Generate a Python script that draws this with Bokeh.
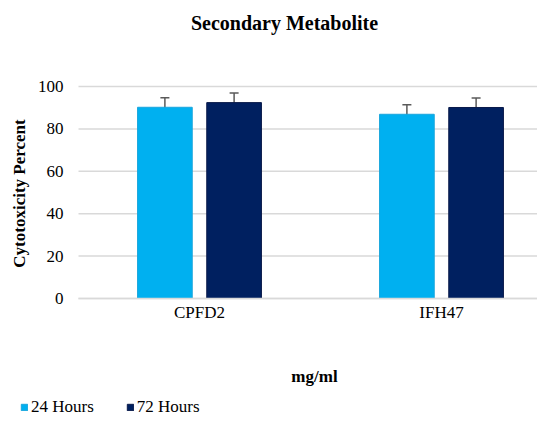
import math
from bokeh.plotting import figure
from bokeh.models import (Range1d, FixedTicker, ColumnDataSource, Whisker, Label,
                          Legend, LegendItem, TeeHead)
from bokeh.embed import file_html
from bokeh.resources import INLINE

categories = ["CPFD2", "IFH47"]
series = ["24 Hours", "72 Hours"]
hours24 = [90.2, 86.9]
hours72 = [92.4, 90.1]
err24 = [4.5, 4.5]
err72 = [4.5, 4.5]
y_ticks = [0, 20, 40, 60, 80, 100]

colors = ["#00B0F0", "#002060"]
line_colors = ["#1AA6DC", "#0A1A4A"]
FONT = "Liberation Serif"

W, H = 537, 417
PX0, PY0, PXU, PYU = 78, 298, 242.0, 2.12   # pixel of data origin, px per unit


def dx(px):
    return (px - PX0) / PXU


def dy(py):
    return (PY0 - py) / PYU


XMAX = dx(W)
p = figure(frame_width=W, frame_height=H, output_backend="svg", toolbar_location=None,
           x_range=Range1d(dx(0), XMAX), y_range=Range1d(dy(H), dy(0)),
           min_border_left=0, min_border_right=0, min_border_top=0,
           min_border_bottom=0, title=None)
p.outline_line_color = None
p.background_fill_color = "white"
p.border_fill_color = "white"
p.xgrid.visible = False
p.ygrid.visible = False

# horizontal grid lines at the y ticks, only across the plot area
p.segment(x0=[0] * len(y_ticks), x1=[XMAX] * len(y_ticks), y0=y_ticks, y1=y_ticks,
          line_color="#D9D9D9", line_width=1.5)

centers = [i + 0.5 for i in range(len(categories))]
offset = 0.143
bw = 0.226

renderers = []
for k, (vals, errs) in enumerate([(hours24, err24), (hours72, err72)]):
    xs = [c + (offset if k else -offset) for c in centers]
    src = ColumnDataSource(dict(x=xs, top=vals,
                                upper=[v + e for v, e in zip(vals, errs)],
                                lower=[v - e for v, e in zip(vals, errs)]))
    r = p.vbar(x="x", top="top", width=bw, source=src, fill_color=colors[k],
               line_color=line_colors[k], line_width=1)
    renderers.append(r)
    w = Whisker(base="x", upper="upper", lower="lower", source=src,
                line_color="#5A5A5A", line_width=1.5,
                upper_head=TeeHead(size=9, line_color="#5A5A5A", line_width=1.5),
                lower_head=TeeHead(size=9, line_color="#5A5A5A", line_width=1.5))
    p.add_layout(w)

# axes fixed at the data origin
p.xaxis.fixed_location = 0
p.xaxis.bounds = (0, XMAX)
p.xaxis.ticker = FixedTicker(ticks=centers)
p.xaxis.major_label_overrides = {c: n for c, n in zip(centers, categories)}
p.xaxis.major_tick_line_color = None
p.xaxis.minor_tick_line_color = None
p.xaxis.axis_line_color = "#D9D9D9"
p.xaxis.axis_line_width = 1.5
p.xaxis.major_label_standoff = -2
p.xaxis.major_label_text_font = FONT
p.xaxis.major_label_text_font_size = "17px"
p.xaxis.major_label_text_color = "#000000"

p.yaxis.fixed_location = 0
p.yaxis.bounds = (0, 100)
p.yaxis.ticker = FixedTicker(ticks=y_ticks)
p.yaxis.major_tick_line_color = None
p.yaxis.minor_tick_line_color = None
p.yaxis.axis_line_color = None
p.yaxis.major_label_standoff = 9
p.yaxis.major_label_text_font = FONT
p.yaxis.major_label_text_font_size = "17px"
p.yaxis.major_label_text_color = "#000000"


def lab(text, x, y, size, angle=0.0):
    return Label(x=x, y=y, text=text, text_font=FONT, text_font_size=size,
                 text_font_style="bold", text_align="center", text_baseline="middle",
                 angle=angle, text_color="#000000")


p.add_layout(lab("Secondary Metabolite", dx(284), dy(22), "20px"))
p.add_layout(lab("mg/ml", dx(314), dy(376), "17px"))
p.add_layout(lab("Cytotoxicity Percent", dx(18.5), dy(193), "17px", math.pi / 2))

legend = Legend(items=[LegendItem(label=s, renderers=[r]) for s, r in zip(series, renderers)],
                orientation="horizontal", location=(20, 0),
                label_text_font=FONT, label_text_font_size="17px",
                label_text_color="#000000",
                glyph_width=8, glyph_height=8, label_standoff=3, spacing=32,
                padding=0, margin=0, border_line_color=None,
                background_fill_alpha=0)
p.add_layout(legend, "center")

open("out.html", "w").write(file_html(p, INLINE))
